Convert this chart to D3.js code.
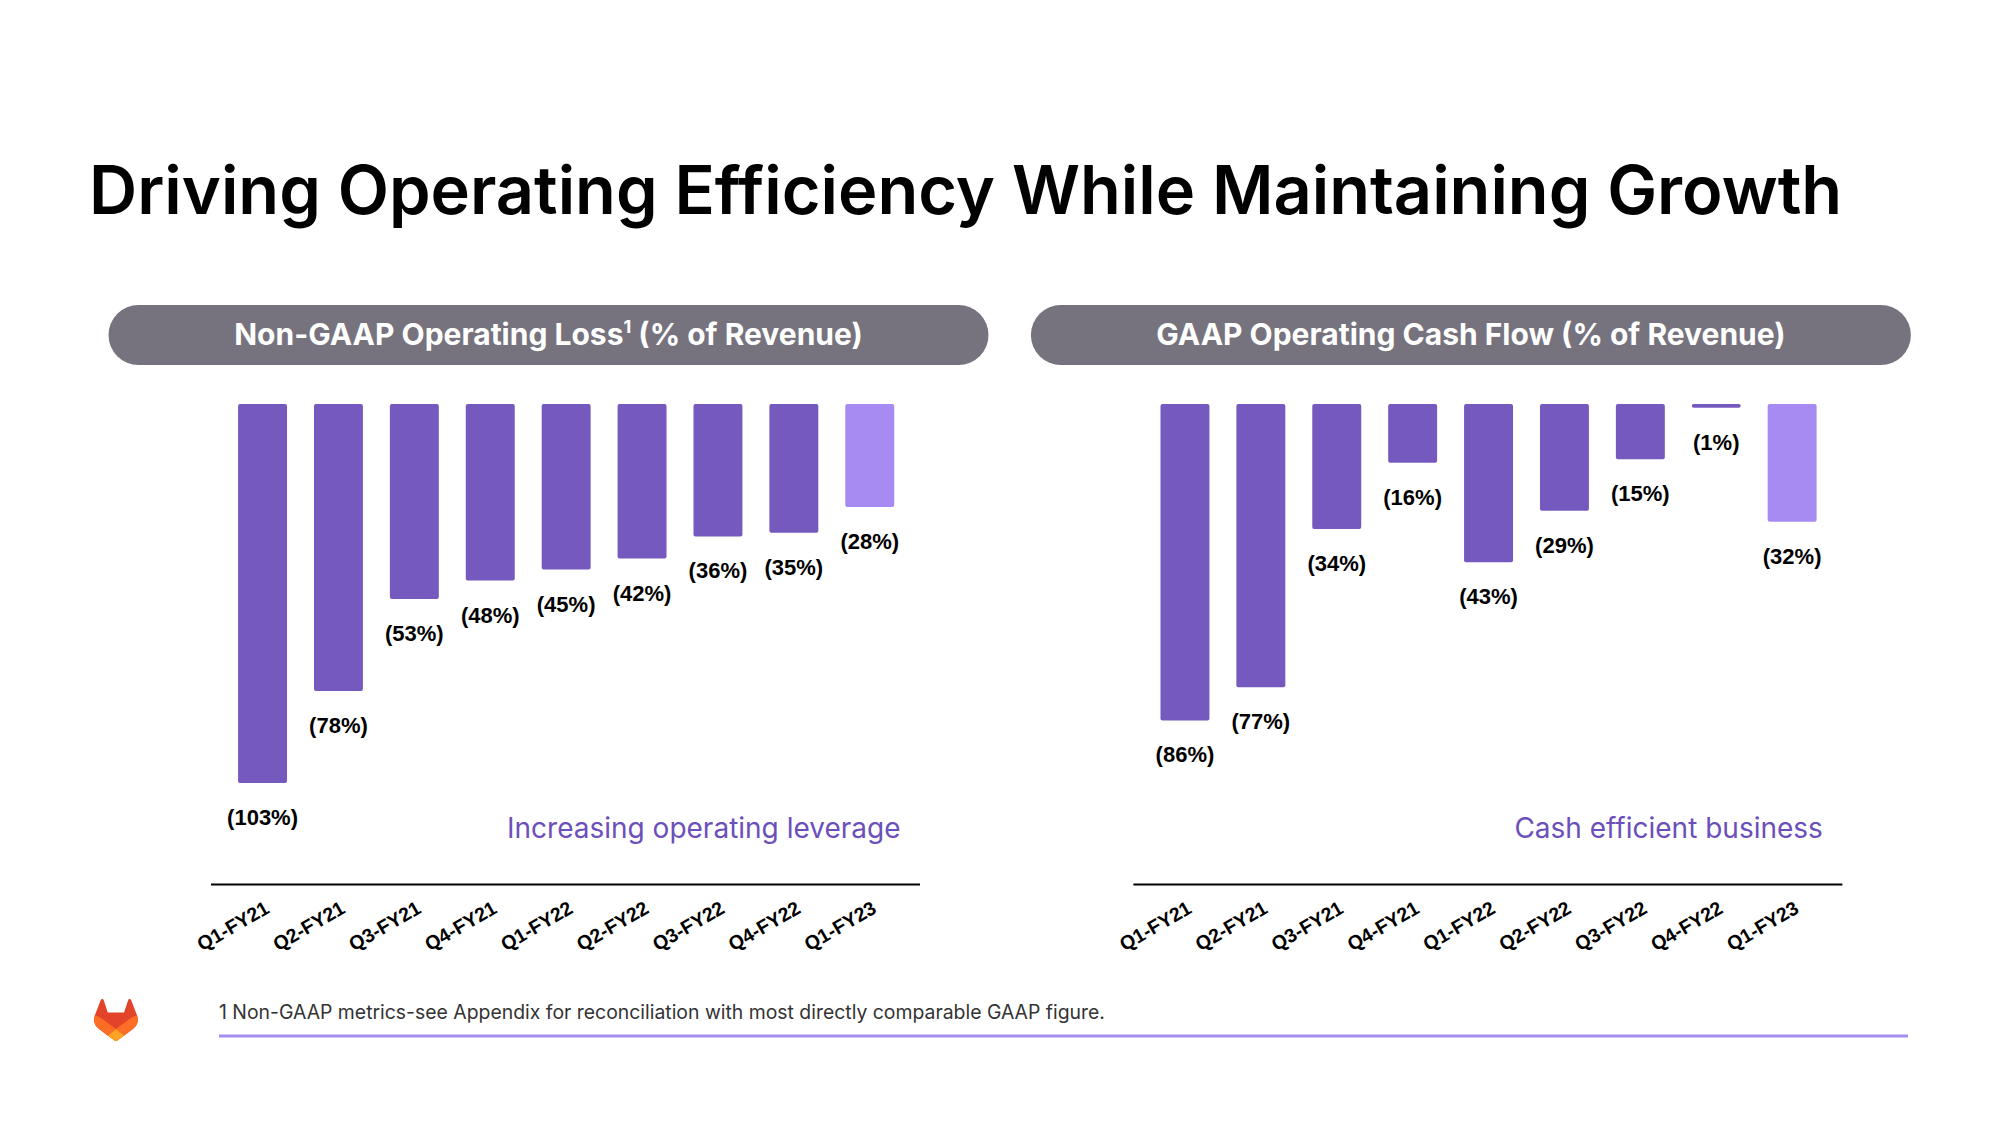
<!DOCTYPE html>
<html><head><meta charset="utf-8">
<script src="https://cdn.jsdelivr.net/npm/d3@7"></script>
<style>html,body{margin:0;padding:0;background:#fff;}svg{display:block;}</style>
</head><body>
<svg id="c" width="2000" height="1125"></svg>
<script>
const categories = ["Q1-FY21","Q2-FY21","Q3-FY21","Q4-FY21","Q1-FY22","Q2-FY22","Q3-FY22","Q4-FY22","Q1-FY23"];
const opLoss = [103, 78, 53, 48, 45, 42, 36, 35, 28];
const cashFlow = [86, 77, 34, 16, 43, 29, 15, 1, 32];
const titleText = "Driving Operating Efficiency While Maintaining Growth";
const panels = [
  {title: "Non-GAAP Operating Loss", sup: "1", rest: " (% of Revenue)", values: opLoss, note: "Increasing operating leverage"},
  {title: "GAAP Operating Cash Flow (% of Revenue)", sup: "", rest: "", values: cashFlow, note: "Cash efficient business"}
];
const footnote = "1 Non-GAAP metrics-see Appendix for reconciliation with most directly comparable GAAP figure.";

const svg = d3.select("#c");
const dark = "#7659bf", light = "#a78bf2", purpleText = "#6b4fbb";

svg.append("text").attr("x", 89).attr("y", 214)
  .attr("font-family", "Inter").attr("font-weight", 600).attr("font-size", 66.7)
  .attr("fill", "#000").text(titleText);

const y = d3.scaleLinear().domain([0, 103]).range([404, 783]);

panels.forEach((p, i) => {
  const off = i * 922.4;
  const g = svg.append("g");
  g.append("rect").attr("x", 108.5 + off).attr("y", 305).attr("width", 880).attr("height", 60)
    .attr("rx", 30).attr("fill", "#76737e");
  const ht = g.append("text").attr("x", 548.5 + off).attr("y", 345).attr("text-anchor", "middle")
    .attr("font-family", "Inter").attr("font-weight", 700).attr("font-size", 30).attr("fill", "#fff");
  ht.append("tspan").text(p.title);
  if (p.sup) {
    ht.append("tspan").attr("font-size", 18).attr("dy", -12).text(p.sup);
    ht.append("tspan").attr("dy", 12).text(p.rest);
  }
  const x = d3.scaleBand().domain(categories).range([224.6 + off, 907.7 + off])
    .paddingInner(0.355).paddingOuter(0.1775);
  g.selectAll("rect.bar").data(p.values).join("rect").attr("class", "bar")
    .attr("x", (d, j) => x(categories[j])).attr("width", x.bandwidth())
    .attr("y", y(0)).attr("height", d => y(d) - y(0))
    .attr("rx", 2)
    .attr("fill", (d, j) => j === categories.length - 1 ? light : dark);
  g.selectAll("text.val").data(p.values).join("text").attr("class", "val")
    .attr("x", (d, j) => x(categories[j]) + x.bandwidth() / 2)
    .attr("y", d => y(d) + 42)
    .attr("text-anchor", "middle")
    .attr("font-family", "Liberation Sans, Arial").attr("font-weight", 700).attr("font-size", 22)
    .attr("fill", "#000").text(d => `(${d}%)`);
  const axis = d3.axisBottom(x).tickSize(0).tickPadding(0);
  const ag = g.append("g").attr("transform", "translate(0,884)").call(axis);
  ag.select(".domain").attr("d", `M${211 + off},0.5H${920 + off}`).attr("stroke", "#000").attr("stroke-width", 2);
  ag.selectAll(".tick text")
    .attr("font-family", "Liberation Sans, Arial").attr("font-weight", 700).attr("font-size", 19.5)
    .attr("fill", "#000").attr("text-anchor", "end").attr("dy", null).attr("y", 0)
    .attr("transform", "translate(8,28) rotate(-30)");
  g.append("text").attr("x", 900.5 + off).attr("y", 838).attr("text-anchor", "end")
    .attr("font-family", "Inter").attr("font-weight", 400).attr("font-size", 28)
    .attr("fill", purpleText).text(p.note);
});

const logo = svg.append("g").attr("transform", "translate(94,999) scale(1.76)");
logo.append("path").attr("fill", "#E24329").attr("d", "m24.507 9.5-.034-.09L21.082.562a.896.896 0 0 0-1.694.091l-2.29 7.01H7.825L5.535.653a.898.898 0 0 0-1.694-.09L.451 9.411.416 9.5a6.297 6.297 0 0 0 2.09 7.278l.012.01.03.022 5.160 3.867 2.56 1.935 1.554 1.176a1.051 1.051 0 0 0 1.268 0l1.555-1.176 2.56-1.935 5.197-3.89.014-.01A6.297 6.297 0 0 0 24.507 9.5Z");
logo.append("path").attr("fill", "#FC6D26").attr("d", "m24.507 9.5-.034-.09a11.44 11.44 0 0 0-4.56 2.051l-7.447 5.632 4.742 3.584 5.197-3.89.014-.01A6.297 6.297 0 0 0 24.507 9.5Z");
logo.append("path").attr("fill", "#FCA326").attr("d", "m7.707 20.677 2.56 1.935 1.555 1.176a1.051 1.051 0 0 0 1.268 0l1.555-1.176 2.56-1.935-4.743-3.584-4.755 3.584Z");
logo.append("path").attr("fill", "#FC6D26").attr("d", "M5.01 11.461a11.43 11.43 0 0 0-4.56-2.05L.416 9.5a6.297 6.297 0 0 0 2.09 7.278l.012.01.03.022 5.16 3.867 4.745-3.584-7.444-5.632Z");

svg.append("text").attr("x", 219).attr("y", 1019)
  .attr("font-family", "Inter").attr("font-weight", 400).attr("font-size", 19.4)
  .attr("fill", "#333").text(footnote);
svg.append("line").attr("x1", 219).attr("x2", 1908).attr("y1", 1036).attr("y2", 1036)
  .attr("stroke", "#a48ef0").attr("stroke-width", 3);
</script>
</body></html>
